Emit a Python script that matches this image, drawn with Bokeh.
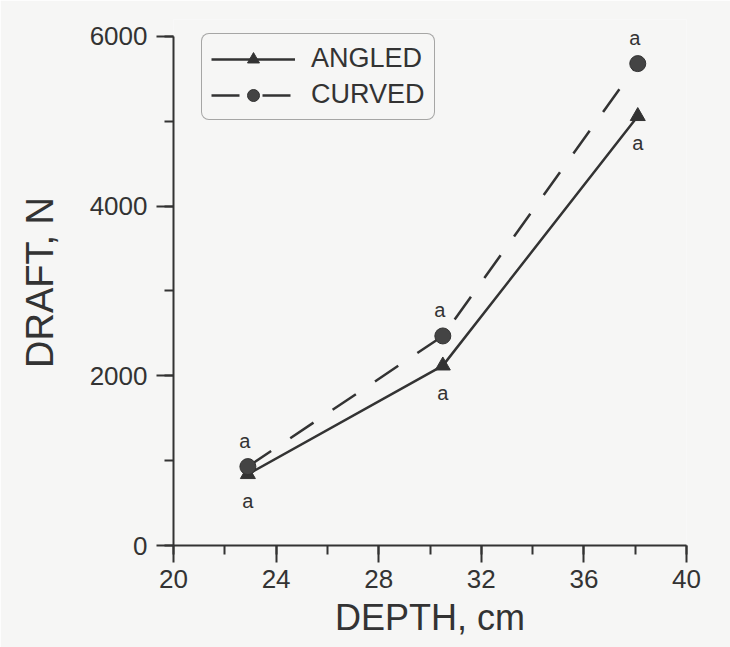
from bokeh.plotting import figure
from bokeh.models import (Range1d, SingleIntervalTicker, Legend, LegendItem,
                          ColumnDataSource, LabelSet)
from bokeh.core.properties import value
from bokeh.embed import file_html
from bokeh.resources import INLINE

# ---- data ----
depth = [22.9, 30.5, 38.1]
angled = [840, 2120, 5060]
curved = [930, 2470, 5680]
angled_sig = ["a", "a", "a"]
curved_sig = ["a", "a", "a"]
series_names = ["ANGLED", "CURVED"]
x_label = "DEPTH, cm"
y_label = "DRAFT, N"

INK = "#333333"
BG = "#f6f6f5"
FONT = "Liberation Sans"

p = figure(width=730, height=647, output_backend="svg", toolbar_location=None,
           x_range=Range1d(20, 40), y_range=Range1d(0, 6200),
           min_border_left=173, min_border_right=44, min_border_top=19,
           min_border_bottom=102)
p.background_fill_color = BG
p.border_fill_color = BG
p.outline_line_color = None
p.grid.visible = False

# axes
p.xaxis.ticker = SingleIntervalTicker(interval=4, num_minor_ticks=2)
p.yaxis.ticker = SingleIntervalTicker(interval=2000, num_minor_ticks=2)
p.yaxis.bounds = (0, 6000)
for ax in (p.xaxis[0], p.yaxis[0]):
    ax.axis_line_color = INK
    ax.axis_line_width = 2
    ax.major_tick_line_color = INK
    ax.major_tick_line_width = 2
    ax.minor_tick_line_color = INK
    ax.minor_tick_line_width = 2
    ax.major_tick_in = 0
    ax.major_tick_out = 17
    ax.minor_tick_in = 0
    ax.minor_tick_out = 9
    ax.major_label_text_font = FONT
    ax.major_label_text_font_size = "26px"
    ax.major_label_text_color = INK
    ax.axis_label_text_font = FONT
    ax.axis_label_text_font_style = "normal"
    ax.axis_label_text_color = INK
    ax.major_label_standoff = 9

p.xaxis.major_label_standoff = 7
p.xaxis.axis_label = x_label
p.xaxis.axis_label_text_font_size = "36px"
p.xaxis.axis_label_standoff = 6
p.yaxis.axis_label = y_label
p.yaxis.axis_label_text_font_size = "38px"
p.yaxis.axis_label_standoff = 26

# series
src = ColumnDataSource(dict(x=depth, a=angled, c=curved,
                            sa=angled_sig, sc=curved_sig))

l_ang = p.line("x", "a", source=src, line_color=INK, line_width=2.5)
m_ang = p.scatter("x", "a", source=src, marker="triangle", size=15,
                  fill_color=INK, line_color=INK)
l_cur = p.line("x", "c", source=src, line_color=INK, line_width=2.5,
               line_dash="28 23")
m_cur = p.scatter("x", "c", source=src, marker="circle", size=16,
                  fill_color="#444444", line_color=INK)

# significance letters
p.add_layout(LabelSet(x="x", y="c", text="sc", source=src, y_offset=26,
                      x_offset=-3, text_font=value(FONT),
                      text_font_size=value("20px"), text_color=INK,
                      text_align="center", text_baseline="middle"))
p.add_layout(LabelSet(x="x", y="a", text="sa", source=src, y_offset=-27,
                      x_offset=0, text_font=value(FONT),
                      text_font_size=value("20px"), text_color=INK,
                      text_align="center", text_baseline="middle"))

# legend
leg = Legend(items=[LegendItem(label=series_names[0], renderers=[l_ang, m_ang]),
                    LegendItem(label=series_names[1], renderers=[l_cur, m_cur])],
             location=(28, 425))
leg.label_text_font = FONT
leg.label_text_font_size = "27px"
leg.label_text_color = INK
leg.glyph_width = 84
leg.glyph_height = 30
leg.label_height = 30
leg.label_standoff = 16
leg.padding = 9
leg.spacing = 5
leg.margin = 0
leg.border_line_color = "#555555"
leg.border_line_width = 1.5
leg.background_fill_color = BG
leg.background_fill_alpha = 1.0
try:
    if "border_radius" in Legend.properties():
        leg.border_radius = 8
except Exception:
    pass
p.add_layout(leg, "center")

open("out.html", "w").write(file_html(p, INLINE))
